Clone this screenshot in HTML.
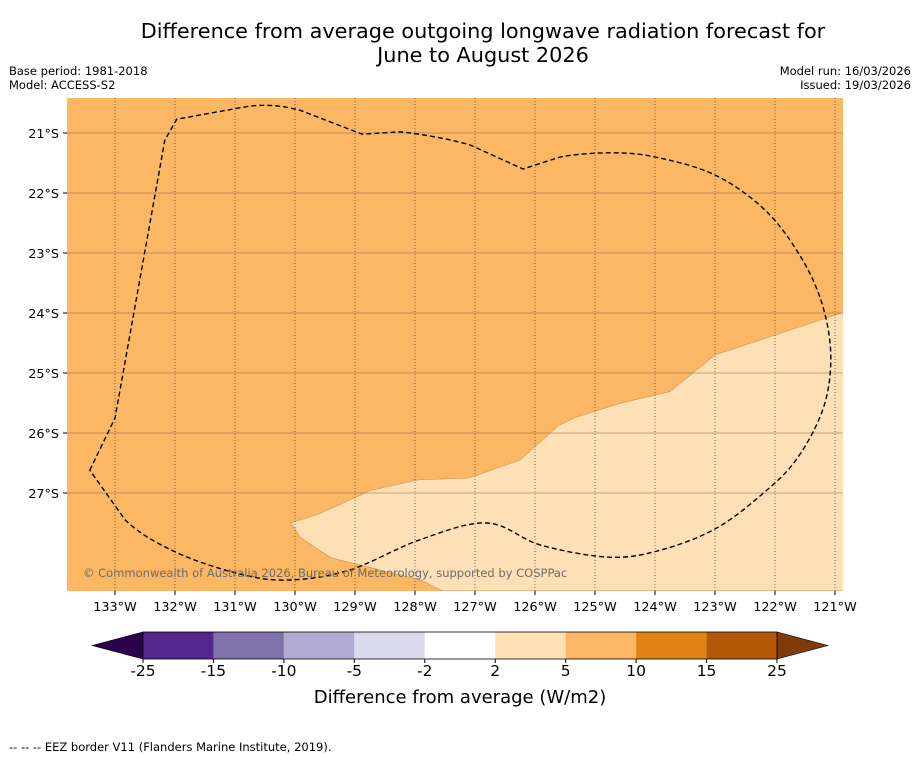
<!DOCTYPE html>
<html><head><meta charset="utf-8"><style>
body{margin:0;background:#fff;font-family:"Liberation Sans","DejaVu Sans",sans-serif;}
svg text{font-family:"DejaVu Sans","Liberation Sans",sans-serif;}
</style></head><body>
<svg id="chart" width="919" height="758" viewBox="0 0 919 758" xmlns="http://www.w3.org/2000/svg">
<rect width="919" height="758" fill="#fff"/>
<text x="483" y="38" font-size="20.8" text-anchor="middle">Difference from average outgoing longwave radiation forecast for</text>
<text x="483" y="62" font-size="20.8" text-anchor="middle">June to August 2026</text>
<text x="9" y="75" font-size="11.5">Base period: 1981-2018</text>
<text x="9" y="89" font-size="11.5">Model: ACCESS-S2</text>
<text x="911" y="75" font-size="11.5" text-anchor="end">Model run: 16/03/2026</text>
<text x="911" y="89" font-size="11.5" text-anchor="end">Issued: 19/03/2026</text>
<g id="map"></g>
<g id="cbar"></g>
<text x="460" y="703" font-size="18" text-anchor="middle">Difference from average (W/m2)</text>
<text x="9" y="751" font-size="11.5">--  --  -- EEZ border V11 (Flanders Marine Institute, 2019).</text>
</svg>
<script>
const lonTicks=[133,132,131,130,129,128,127,126,125,124,123,122,121];
const latTicks=[21,22,23,24,25,26,27];
const cbBounds=[-25,-15,-10,-5,-2,2,5,10,15,25];
const cbColors=["#54278f","#7f72ac","#b1aad2","#dadaeb","#ffffff","#fee0b6","#fbb763","#e08214","#b35806"];
const cbUnder="#2d004b", cbOver="#7f3b08";
const lightLon=[130.07,129.6,128.75,127.95,127.1,126.25,125.6,125.35,124.6,123.75,123.0,122.1,120.8,120.8,127.55,127.9,129.4,129.9];
const lightLat=[27.5,27.35,26.96,26.78,26.75,26.45,25.87,25.75,25.51,25.31,24.7,24.4,23.97,28.63,28.63,28.45,28.08,27.75];
const eezLon=[133.42,133.0,132.17,131.97,130.75,129.92,128.88,128.25,127.08,126.2,125.58,124.75,124.0,123.0,122.15,121.55,121.2,121.07,121.2,121.65,122.25,123.0,123.9,124.75,125.9,126.8,127.92,129.08,130.08,130.92,132.0,132.83];
const eezLat=[26.62,25.75,21.12,20.77,20.55,20.62,21.02,20.98,21.2,21.6,21.4,21.33,21.4,21.7,22.3,23.1,23.9,24.75,25.6,26.45,27.05,27.6,27.95,28.07,27.87,27.5,27.78,28.28,28.45,28.35,27.98,27.45];
const NS="http://www.w3.org/2000/svg";
const X0=67,X1=843,Y0=98,Y1=591;
const xs=lon=>115+(133-lon)*60;
const ys=lat=>133+(lat-21)*60;
const cbx=v=>{let i=0;while(i<cbBounds.length-2&&v>cbBounds[i+1])i++;return 143+(i+(v-cbBounds[i])/(cbBounds[i+1]-cbBounds[i]))*(634/9);};
function mk(tag,attrs,parent){const e=document.createElementNS(NS,tag);for(const k in attrs)e.setAttribute(k,attrs[k]);parent.appendChild(e);return e;}
function smooth(P,sharp){const n=P.length;let d=`M${P[0][0]},${P[0][1]}`;
 for(let i=0;i<n;i++){const p0=P[(i-1+n)%n],p1=P[i],p2=P[(i+1)%n],p3=P[(i+2)%n];
  const t=(sharp.includes(i)||sharp.includes((i+1)%n))?0:1/6;
  const c1=[p1[0]+(p2[0]-p0[0])*t,p1[1]+(p2[1]-p0[1])*t];
  const c2=[p2[0]-(p3[0]-p1[0])*t,p2[1]-(p3[1]-p1[1])*t];
  d+=` C${c1[0].toFixed(1)},${c1[1].toFixed(1)} ${c2[0].toFixed(1)},${c2[1].toFixed(1)} ${p2[0].toFixed(1)},${p2[1].toFixed(1)}`;}
 return d+'Z';}
const map=document.getElementById('map');
let r=mk('rect',{x:X0,y:Y0,width:X1-X0,height:Y1-Y0,fill:cbColors[6]},map);


let cp=mk('clipPath',{id:'mc'},map);mk('rect',{x:X0,y:Y0,width:X1-X0,height:Y1-Y0},cp);
let pts=lightLon.map((l,i)=>xs(l).toFixed(1)+','+ys(lightLat[i]).toFixed(1)).join(' ');
let p=mk('polygon',{points:pts,fill:cbColors[5],stroke:"#c9955a","stroke-width":0.6,"clip-path":"url(#mc)"},map);


lonTicks.forEach(l=>{const x=xs(l);
 let g=mk('line',{x1:x,x2:x,y1:Y0,y2:Y1,stroke:"#222","stroke-width":0.6,"stroke-dasharray":"1,2"},map);
 
 
 mk('line',{x1:x,x2:x,y1:Y1,y2:Y1+4,stroke:"#000"},map);
 let t=mk('text',{x:x,y:611,"font-size":12.8,"text-anchor":"middle"},map);t.textContent=l+'°W';
 
 });
latTicks.forEach(l=>{const y=ys(l);
 let g=mk('line',{x1:X0,x2:X1,y1:y,y2:y,stroke:"#8a6640","stroke-width":0.6},map);
 
 
 mk('line',{x1:X0-4,x2:X0,y1:y,y2:y,stroke:"#000"},map);
 let t=mk('text',{x:X0-8,y:y+5,"font-size":12.8,"text-anchor":"end"},map);t.textContent=l+'°S';
 
 });
const eP=eezLon.map((l,i)=>[xs(l),ys(eezLat[i])]);
let e=mk('path',{d:smooth(eP,[0,1,2,3,6,9]),fill:"none",stroke:"#000","stroke-width":1.4,"stroke-dasharray":"5,3","clip-path":"url(#mc)"},map);


let c=mk('text',{x:83,y:577,"font-size":11.5,fill:"#6b6b6b"},map);c.textContent='© Commonwealth of Australia 2026, Bureau of Meteorology, supported by COSPPac';


const cb=document.getElementById('cbar');
const cy0=632,cy1=659;
let u=mk('polygon',{points:`92,645.5 143,${cy0} 143,${cy1}`,fill:cbUnder,stroke:"#000","stroke-width":0.6},cb);


let o=mk('polygon',{points:`828,645.5 777,${cy0} 777,${cy1}`,fill:cbOver,stroke:"#000","stroke-width":0.6},cb);


cbColors.forEach((col,i)=>{const a=cbx(cbBounds[i]),b=cbx(cbBounds[i+1]);
 let s=mk('rect',{x:a,y:cy0,width:b-a,height:cy1-cy0,fill:col},cb);
 
 });
mk('rect',{x:143,y:cy0,width:634,height:cy1-cy0,fill:"none",stroke:"#000","stroke-width":0.8},cb);
cbBounds.forEach(v=>{const x=cbx(v);
 mk('line',{x1:x,x2:x,y1:cy1,y2:cy1+4,stroke:"#000"},cb);
 let t=mk('text',{x:x,y:676,"font-size":15.5,"text-anchor":"middle"},cb);t.textContent=v;
 
 });
</script>
</body></html>
